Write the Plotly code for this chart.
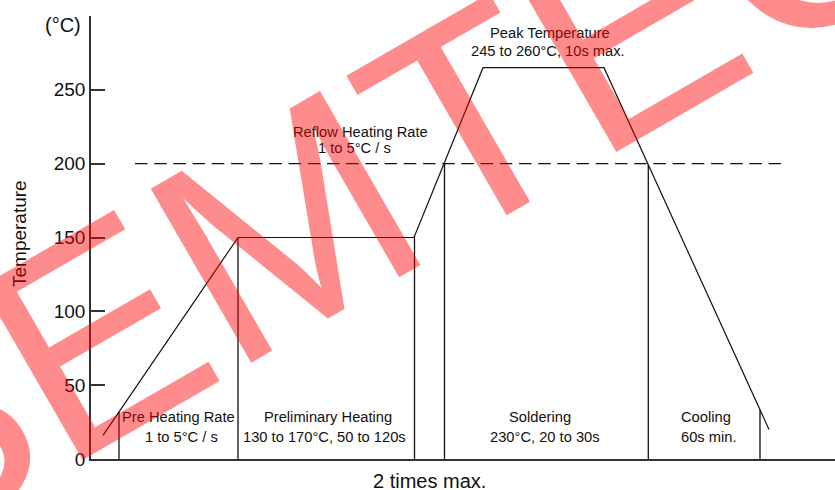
import numpy as np
import plotly.graph_objects as go

# ---- data (schematic reflow profile; x in arbitrary time units) ----
profile_x = [12, 147, 323, 392, 513, 678]
profile_t = [16, 150, 150, 265, 265, 20]

divider_x = [28, 147, 323.5, 353.5, 557.3, 669]

threshold_temp = 200
threshold_span = [44, 694]

ytick_vals = [0, 50, 100, 150, 200, 250]
ytick_text = ["0", "50", "100", "150", "200", "250"]

label_texts = [
    "Reflow Heating Rate", "1 to 5°C / s",
    "Peak Temperature", "245 to 260°C, 10s max.",
    "Pre Heating Rate", "1 to 5°C / s",
    "Preliminary Heating", "130 to 170°C, 50 to 120s",
    "Soldering", "230°C, 20 to 30s",
    "Cooling", "60s min.",
]
label_x = [269.3, 263.5, 459, 457.2, 87.3, 90.7, 237, 233.3, 449.2, 454, 614.7, 617.8]
label_y = [221.4, 210.9, 288.2, 276.3, 28.4, 14.9, 28.4, 14.9, 28.4, 14.9, 28.4, 14.9]

FONT = "Arial, Liberation Sans, Helvetica, sans-serif"
INK = "#111111"
AXIS = "#333333"

# plot-area geometry (pixels)
L, T, W, H = 91, 16, 744, 443


def px(xp):
    return (xp - L) / W


def py(yp):
    return 1 - (yp - T) / H


fig = go.Figure()

# profile curve
fig.add_trace(go.Scatter(
    x=profile_x, y=profile_t, mode="lines",
    line=dict(color=INK, width=1.2), hoverinfo="skip", showlegend=False))

# vertical zone dividers, from 0 up to the curve
div_h = np.interp(divider_x, profile_x, profile_t)
vx, vy = [], []
for xv, hv in zip(divider_x, div_h):
    vx += [xv, xv, None]
    vy += [0, float(hv), None]
fig.add_trace(go.Scatter(
    x=vx, y=vy, mode="lines",
    line=dict(color=INK, width=1.3), hoverinfo="skip", showlegend=False))

# dashed 200 °C line
fig.add_trace(go.Scatter(
    x=threshold_span, y=[threshold_temp, threshold_temp], mode="lines",
    line=dict(color=INK, width=1.3, dash="12.5px,6.7px"), hoverinfo="skip", showlegend=False))

annotations = []
for t, xv, yv in zip(label_texts, label_x, label_y):
    annotations.append(dict(
        x=xv, y=yv, xref="x", yref="y", text=t, showarrow=False,
        xanchor="center", yanchor="middle",
        font=dict(family=FONT, size=14.7, color=INK)))

# unit label
annotations.append(dict(
    x=px(63), y=py(25), xref="paper", yref="paper",
    text="(°C)", showarrow=False, xanchor="center", yanchor="middle",
    font=dict(family=FONT, size=20, color=INK)))

# axis titles
annotations.append(dict(
    x=px(429), y=py(481), xref="paper", yref="paper",
    text="2 times max.", showarrow=False, xanchor="center", yanchor="middle",
    font=dict(family=FONT, size=20, color=INK)))
annotations.append(dict(
    x=px(19), y=py(234), xref="paper", yref="paper",
    text="Temperature", showarrow=False, xanchor="center", yanchor="middle",
    textangle=-90, font=dict(family=FONT, size=19, color=INK)))

# watermark
annotations.append(dict(
    x=px(461), y=py(125), xref="paper", yref="paper",
    text="SEMTECH", showarrow=False, textangle=-30,
    xanchor="center", yanchor="middle",
    font=dict(family=FONT, size=292, color="rgba(255,0,0,0.45)")))

fig.update_layout(
    width=835, height=490,
    margin=dict(l=L, r=0, t=T, b=490 - T - H),
    paper_bgcolor="white", plot_bgcolor="white",
    showlegend=False,
    annotations=annotations,
    font=dict(family=FONT, color=INK),
)

fig.update_xaxes(
    range=[0, 744], showgrid=False, zeroline=False,
    showline=True, linecolor=AXIS, linewidth=1.6,
    showticklabels=False, ticks="",
    automargin=False,
)
fig.update_yaxes(
    range=[0, 300], showgrid=False, zeroline=False,
    showline=True, linecolor=AXIS, linewidth=1.6,
    tickvals=ytick_vals, ticktext=ytick_text,
    ticks="inside", ticklen=14, tickwidth=1.5, tickcolor=AXIS,
    tickfont=dict(family=FONT, size=19, color=INK),
    automargin=False,
)

fig.write_html(
    "out.html",
    config={"displayModeBar": False},
    post_script="document.body.style.margin='0';document.body.style.overflow='hidden';",
)
